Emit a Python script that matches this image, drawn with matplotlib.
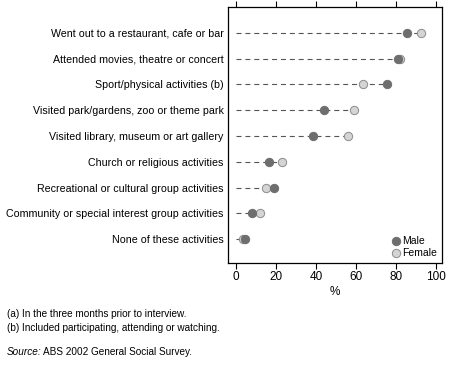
import matplotlib.pyplot as plt
import numpy as np

plt.rcParams['font.family'] = ['Liberation Sans', 'DejaVu Sans']

# data
activities = ['Went out to a restaurant, cafe or bar',
              'Attended movies, theatre or concert',
              'Sport/physical activities (b)',
              'Visited park/gardens, zoo or theme park',
              'Visited library, museum or art gallery',
              'Church or religious activities',
              'Recreational or cultural group activities',
              'Community or special interest group activities',
              'None of these activities']
male = [85.5, 81.0, 75.3, 43.8, 38.7, 16.7, 19.0, 8.2, 4.4]
female = [92.3, 81.8, 63.3, 58.9, 55.9, 23.2, 15.0, 12.1, 3.7]
xticks = [0, 20, 40, 60, 80, 100]

fig = plt.figure(figsize=(4.62, 3.67), dpi=100)
ax = fig.add_axes([0.4935, 0.2834, 0.4632, 0.6976])

ypos = np.arange(1, len(activities) + 1)

# dashed guide line from 0 to the larger value
for y, m, f in zip(ypos, male, female):
    ax.plot([0, max(m, f)], [y, y], color='#555555', lw=0.8,
            dashes=(4.5, 3.5), zorder=1)

ax.scatter(female, ypos, s=36, color='#d4d4d4', edgecolor='#8c8c8c',
           linewidth=0.7, zorder=3, label='Female')
ax.scatter(male, ypos, s=36, color='#6e6e6e', edgecolor='#6e6e6e',
           linewidth=0.7, zorder=4, label='Male')

ax.set_xlim(-4, 103)
ax.set_ylim(9.92, 0)
ax.set_yticks(ypos)
ax.set_yticklabels(activities, fontsize=7.7)
ax.tick_params(axis='y', length=0, pad=3)
ax.set_xticks(xticks)
ax.tick_params(axis='x', direction='out', length=4, width=0.8,
               top=True, labelsize=8.5, pad=2)
ax.set_xlabel('%', fontsize=8.5, labelpad=2)
for s in ax.spines.values():
    s.set_linewidth(0.9)

h, l = ax.get_legend_handles_labels()
ax.legend(h[::-1], l[::-1], loc='lower right', frameon=False, fontsize=7.5,
          handletextpad=0.1, borderpad=0.3, labelspacing=0.2,
          handlelength=1.0, borderaxespad=0.2)

fig.text(0.015, 0.135, '(a) In the three months prior to interview.', fontsize=7.2)
fig.text(0.015, 0.097, '(b) Included participating, attending or watching.', fontsize=7.2)
fig.text(0.015, 0.033, 'Source:', fontsize=7.2, style='italic')
fig.text(0.093, 0.033, 'ABS 2002 General Social Survey.', fontsize=7.2)

fig.savefig('out.png', dpi=100)
